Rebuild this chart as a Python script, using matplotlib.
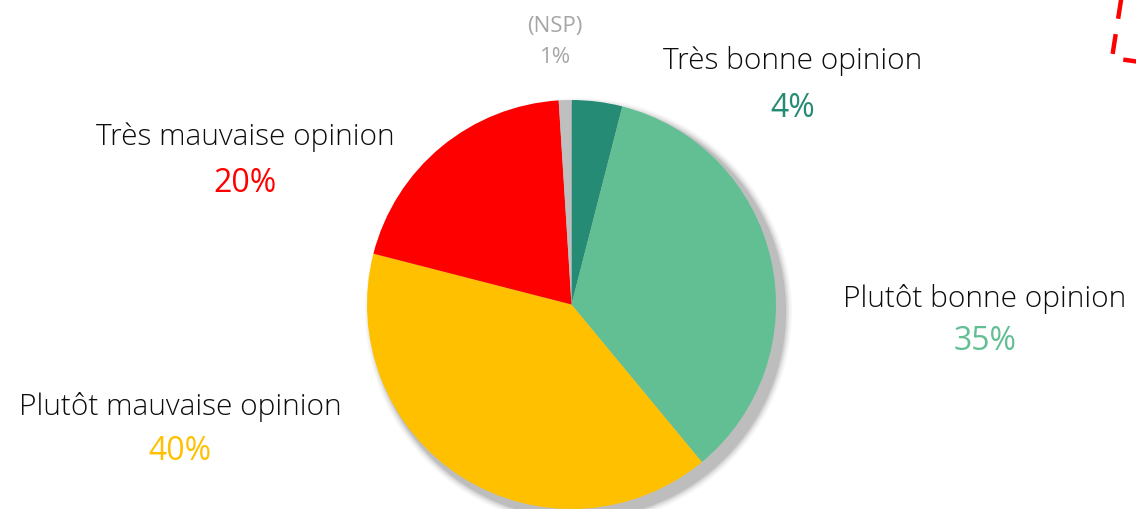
import matplotlib.pyplot as plt
from matplotlib.patches import Circle

labels = ["Très bonne opinion", "Plutôt bonne opinion", "Plutôt mauvaise opinion",
          "Très mauvaise opinion", "(NSP)"]
values = [4, 35, 40, 20, 1]
colors = ["#268B74", "#62BF93", "#FFC000", "#FF0000", "#BFBFBF"]
pct_colors = ["#268B74", "#62BF93", "#FFC000", "#FF0000", "#A6A6A6"]

W, H = 1136, 510
fig = plt.figure(figsize=(W / 100, H / 100), dpi=100)
ax = fig.add_axes([0, 0, 1, 1])

cx, cy, r = 571.5, H - 305.5, 204.5

# soft drop shadow
for i, a in enumerate([0.10, 0.15, 0.25, 0.45, 1.0]):
    grow = (4 - i) * 1.5
    ax.add_patch(Circle((cx + 7, cy - 7), r + 3 + grow, color="#BDBDBD",
                        alpha=a, lw=0, zorder=1))

ax.pie(values, colors=colors, startangle=90, counterclock=False,
       center=(cx, cy), radius=r, wedgeprops=dict(linewidth=0, zorder=2),
       frame=True)
ax.set_xlim(0, W)
ax.set_ylim(0, H)
ax.set_aspect("equal")
ax.axis("off")

# label positions in pixels: x centre, baseline of name, baseline of percent
pos = [(793, 69, 117), (985, 307, 350), (180, 415, 460), (245, 145, 192), (555, 32, 63)]
font = "Open Sans"
for lab, v, pc, (x, y1, y2) in zip(labels, values, pct_colors, pos):
    if lab == "(NSP)":
        ax.text(x, H - y1, lab, ha="center", va="baseline", family=font,
                fontsize=16, color="#A6A6A6")
        ax.text(x, H - y2, f"{v}%", ha="center", va="baseline", family=font,
                fontsize=16, color=pc)
    else:
        ax.text(x, H - y1, lab, ha="center", va="baseline", family=font,
                fontsize=21.5, color="#0d0d0d", fontweight="light")
        ax.text(x, H - y2, f"{v}%", ha="center", va="baseline", family=font,
                fontsize=23, color=pc)

# red dashed frame fragment in top-right corner
ax.plot([1121.5, 1112, 1140], [H + 2, H - 59, H - 63], color="#FF0000",
        lw=3.2, dashes=(4.5, 3.5), solid_capstyle="butt", clip_on=False)

fig.savefig("out.png", dpi=100)
